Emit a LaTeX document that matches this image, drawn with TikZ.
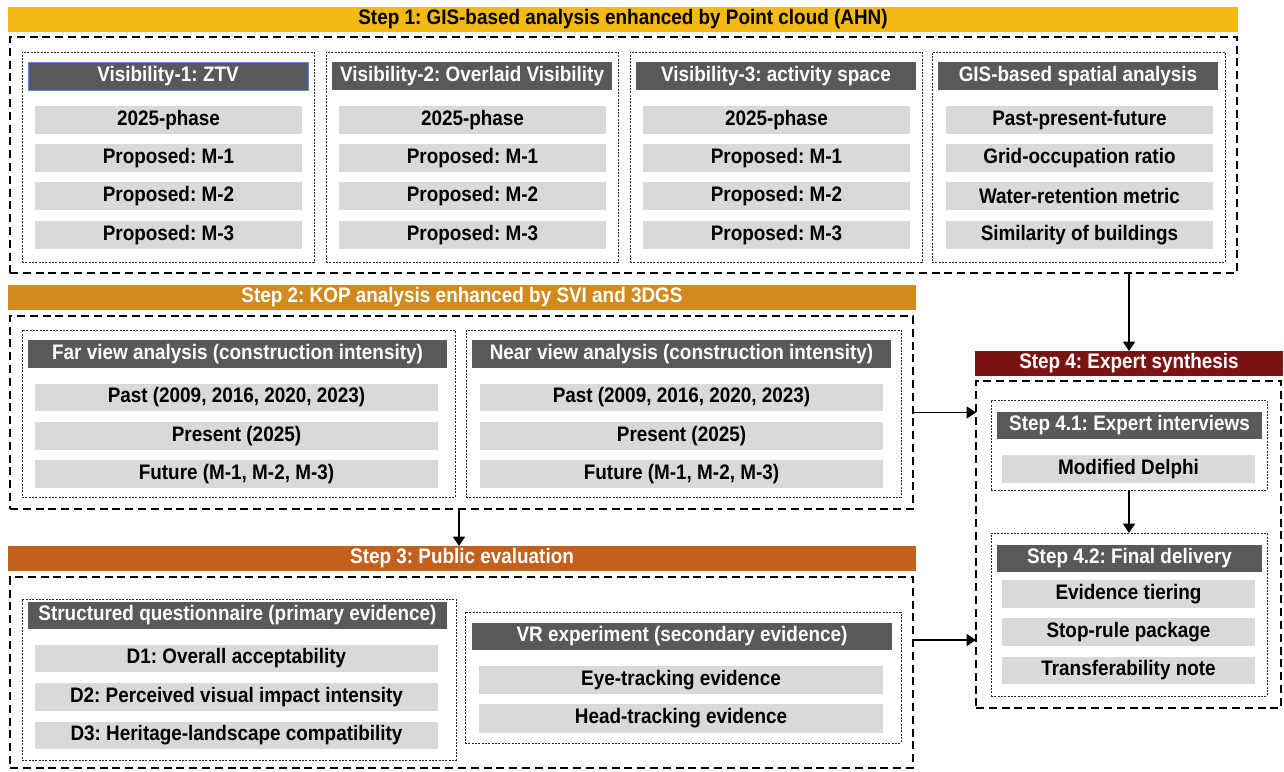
\documentclass[tikz,border=0pt]{standalone}
\usepackage{fontspec}
\setmainfont{Liberation Sans}[FakeStretch=0.9]
\usetikzlibrary{arrows.meta}
\definecolor{stepone}{HTML}{F5B914}
\definecolor{steptwo}{HTML}{D08A1E}
\definecolor{stepthree}{HTML}{C45F1C}
\definecolor{stepfour}{HTML}{7A1414}
\definecolor{hdrgray}{HTML}{595959}
\definecolor{itemgray}{HTML}{D9D9D9}
\definecolor{edgeblue}{HTML}{5B8FD0}
\frenchspacing
\tikzset{
  every node/.style={inner sep=0pt, outer sep=0pt, font=\fontsize{15.75}{18}\selectfont\bfseries},
  stepbar/.style={fill=#1, text=white},
  hdrbox/.style={fill=hdrgray, text=white},
  itembox/.style={fill=itemgray, text=black},
  outerbox/.style={draw=black, line width=1.3pt, dash pattern=on 6pt off 3.6pt},
  innerbox/.style={draw=black!85, line width=0.7pt, dash pattern=on 1.5pt off 1pt},
  arr/.style={draw=black, line width=0.8pt, -{Triangle[length=7pt,width=9pt]}}
}
% box from pixel corners (x1,y1)-(x2,y2)
\newcommand\bx[7]{%
  \node[#2, minimum width={(#5-#3)*0.75pt}, minimum height={(#6-#4)*0.75pt}]
    (#1) at ({(#3+#5)/2},{(#4+#6)/2}) {#7};}
\begin{document}
\begin{tikzpicture}[x=0.75pt, y=-0.75pt]
\useasboundingbox[fill=white] (0,0) rectangle (1284,771);

% ---------- Step 1 ----------
\bx{s1bar}{fill=stepone, text=black}{8}{7}{1238}{32}{Step 1: GIS-based analysis enhanced by Point cloud (AHN)}
\bx{s1box}{outerbox}{10}{37}{1237}{273}{}

\bx{c1}{innerbox}{22}{52}{314}{262}{}
\bx{c1h}{hdrbox, draw=edgeblue, line width=0.6pt}{28}{62}{308}{90}{Visibility-1: ZTV}
\bx{c1a}{itembox}{35}{106}{302}{134}{2025-phase}
\bx{c1b}{itembox}{35}{144}{302}{172}{Proposed: M-1}
\bx{c1c}{itembox}{35}{182}{302}{210}{Proposed: M-2}
\bx{c1d}{itembox}{35}{221}{302}{249}{Proposed: M-3}

\bx{c2}{innerbox}{326}{52}{618}{262}{}
\bx{c2h}{hdrbox}{332}{62}{612}{90}{Visibility-2: Overlaid Visibility}
\bx{c2a}{itembox}{339}{106}{606}{134}{2025-phase}
\bx{c2b}{itembox}{339}{144}{606}{172}{Proposed: M-1}
\bx{c2c}{itembox}{339}{182}{606}{210}{Proposed: M-2}
\bx{c2d}{itembox}{339}{221}{606}{249}{Proposed: M-3}

\bx{c3}{innerbox}{630}{52}{922}{262}{}
\bx{c3h}{hdrbox}{636}{62}{916}{90}{Visibility-3: activity space}
\bx{c3a}{itembox}{643}{106}{910}{134}{2025-phase}
\bx{c3b}{itembox}{643}{144}{910}{172}{Proposed: M-1}
\bx{c3c}{itembox}{643}{182}{910}{210}{Proposed: M-2}
\bx{c3d}{itembox}{643}{221}{910}{249}{Proposed: M-3}

\bx{c4}{innerbox}{932}{52}{1225}{262}{}
\bx{c4h}{hdrbox}{938}{62}{1218}{90}{GIS-based spatial analysis}
\bx{c4a}{itembox}{946}{106}{1213}{134}{Past-present-future}
\bx{c4b}{itembox}{946}{144}{1213}{172}{Grid-occupation ratio}
\bx{c4c}{itembox}{946}{182}{1213}{210}{Water-retention metric}
\bx{c4d}{itembox}{946}{221}{1213}{249}{Similarity of buildings}

% ---------- Step 2 ----------
\bx{s2bar}{stepbar=steptwo}{8}{285}{916}{310}{Step 2: KOP analysis enhanced by SVI and 3DGS}
\bx{s2box}{outerbox}{10}{316}{913}{509}{}

\bx{far}{innerbox}{22}{330}{455}{497}{}
\bx{farh}{hdrbox}{28}{340}{447}{368}{Far view analysis (construction intensity)}
\bx{fara}{itembox}{35}{384}{438}{411}{Past (2009, 2016, 2020, 2023)}
\bx{farb}{itembox}{35}{422}{438}{450}{Present (2025)}
\bx{farc}{itembox}{35}{460}{438}{488}{Future (M-1, M-2, M-3)}

\bx{near}{innerbox}{466}{330}{901}{497}{}
\bx{nearh}{hdrbox}{472}{340}{891}{368}{Near view analysis (construction intensity)}
\bx{neara}{itembox}{480}{384}{883}{411}{Past (2009, 2016, 2020, 2023)}
\bx{nearb}{itembox}{480}{422}{883}{450}{Present (2025)}
\bx{nearc}{itembox}{480}{460}{883}{488}{Future (M-1, M-2, M-3)}

% ---------- Step 3 ----------
\bx{s3bar}{stepbar=stepthree}{8}{546}{916}{571}{Step 3: Public evaluation}
\bx{s3box}{outerbox}{10}{577}{913}{768}{}

\bx{sq}{innerbox}{22}{599}{456}{760}{}
\bx{sqh}{hdrbox}{28}{602}{447}{629}{Structured questionnaire (primary evidence)}
\bx{sqa}{itembox}{35}{645}{438}{672}{D1: Overall acceptability}
\bx{sqb}{itembox}{35}{683}{438}{711}{D2: Perceived visual impact intensity}
\bx{sqc}{itembox}{35}{722}{438}{749}{D3: Heritage-landscape compatibility}

\bx{vr}{innerbox}{465}{612}{901}{743}{}
\bx{vrh}{hdrbox}{472}{623}{892}{650}{VR experiment (secondary evidence)}
\bx{vra}{itembox}{479}{666}{883}{694}{Eye-tracking evidence}
\bx{vrb}{itembox}{479}{704}{883}{733}{Head-tracking evidence}

% ---------- Step 4 ----------
\bx{s4bar}{stepbar=stepfour}{975}{351}{1283}{376}{Step 4: Expert synthesis}
\bx{s4box}{outerbox}{976}{381}{1281}{708}{}

\bx{s41}{innerbox}{991}{400}{1267}{490}{}
\bx{s41h}{hdrbox}{997}{412}{1262}{439}{Step 4.1: Expert interviews}
\bx{s41a}{itembox}{1002}{455}{1255}{483}{Modified Delphi}

\bx{s42}{innerbox}{991}{533}{1267}{696}{}
\bx{s42h}{hdrbox}{997}{545}{1262}{572}{Step 4.2: Final delivery}
\bx{s42a}{itembox}{1002}{580}{1255}{608}{Evidence tiering}
\bx{s42b}{itembox}{1002}{618}{1255}{646}{Stop-rule package}
\bx{s42c}{itembox}{1002}{657}{1255}{684}{Transferability note}

% ---------- connectors ----------
\coordinate (d23) at (459,0);
\coordinate (h3) at (0,640);
\draw[arr] (s4bar.north |- s1box.south) -- (s4bar.north);
\draw[arr] (s2box.east) -- (s2box.east -| s4box.west);
\draw[arr] (s2box.south -| d23) -- (s3bar.north -| d23);
\draw[arr] (s3box.east |- h3) -- (s4box.west |- h3);
\draw[arr] (s41.south) -- (s42.north);
\end{tikzpicture}
\end{document}
